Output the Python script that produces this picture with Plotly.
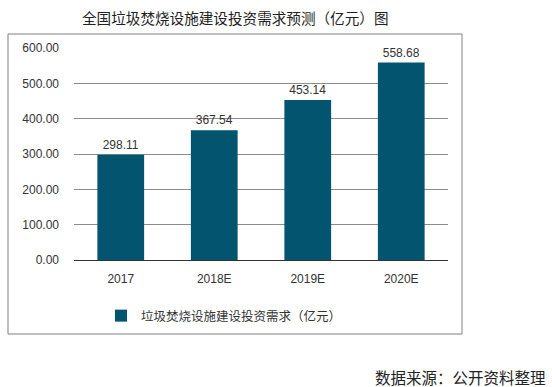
import plotly.graph_objects as go

categories = ["2017", "2018E", "2019E", "2020E"]
values = [298.11, 367.54, 453.14, 558.68]
value_labels = ["298.11", "367.54", "453.14", "558.68"]
series_name = "垃圾焚烧设施建设投资需求（亿元）"
title_text = "全国垃圾焚烧设施建设投资需求预测（亿元）图"
source_text = "数据来源：公开资料整理"
y_ticks = [0, 100, 200, 300, 400, 500, 600]
y_tick_labels = ["0.00", "100.00", "200.00", "300.00", "400.00", "500.00", "600.00"]

W, H = 552, 387
L, R, T, B = 74, 104, 48, 127
pw, ph = W - L - R, H - T - B

def px_x(p):
    return (p - L) / pw

def px_y(p):
    return (H - B - p) / ph

font_latin = "Liberation Sans, Arial, Noto Sans CJK SC, sans-serif"
font_cjk = "Noto Sans CJK SC, Liberation Sans, sans-serif"

fig = go.Figure()
fig.add_trace(go.Bar(
    x=categories, y=values, name=series_name,
    marker=dict(color="#03546E", line=dict(width=0)),
    text=value_labels, textposition="outside",
    textfont=dict(size=12, color="#333333", family=font_latin),
    cliponaxis=False, showlegend=True,
))

fig.update_layout(
    width=W, height=H,
    margin=dict(l=L, r=R, t=T, b=B),
    paper_bgcolor="white", plot_bgcolor="white",
    bargap=0.5,
    showlegend=True,
    legend=dict(orientation="h", x=px_x(101), xanchor="left", y=px_y(316), yanchor="middle",
                font=dict(size=12.5, color="#333333", family=font_cjk),
                bgcolor="rgba(0,0,0,0)"),
    xaxis=dict(showgrid=False, showline=False, ticks="", zeroline=False,
               ticklabelstandoff=10,
               tickfont=dict(size=12, color="#333333", family=font_latin)),
    yaxis=dict(range=[0, 600], tickvals=y_ticks, ticktext=y_tick_labels,
               showgrid=True, gridcolor="#8c8c8c", gridwidth=1,
               zeroline=True, zerolinecolor="#333333", zerolinewidth=1,
               showline=False, ticks="", ticklabelstandoff=14,
               tickfont=dict(size=12, color="#333333", family=font_latin)),
)

fig.add_shape(type="rect", xref="paper", yref="paper",
              x0=px_x(8), x1=px_x(462), y0=px_y(334), y1=px_y(34),
              line=dict(color="#808080", width=1), fillcolor="rgba(0,0,0,0)", layer="below")

fig.add_annotation(text=title_text, xref="paper", yref="paper",
                   x=px_x(235), y=px_y(17), xanchor="center", yanchor="middle",
                   showarrow=False, font=dict(size=14.6, color="#222222", family=font_cjk))
fig.add_annotation(text=source_text, xref="paper", yref="paper",
                   x=px_x(548), y=px_y(377), xanchor="right", yanchor="middle",
                   showarrow=False, font=dict(size=15.5, color="#222222", family=font_cjk))

fig.write_html("out.html", config={"displayModeBar": False},
               post_script="document.body.style.margin='0';document.body.style.overflow='hidden';")
